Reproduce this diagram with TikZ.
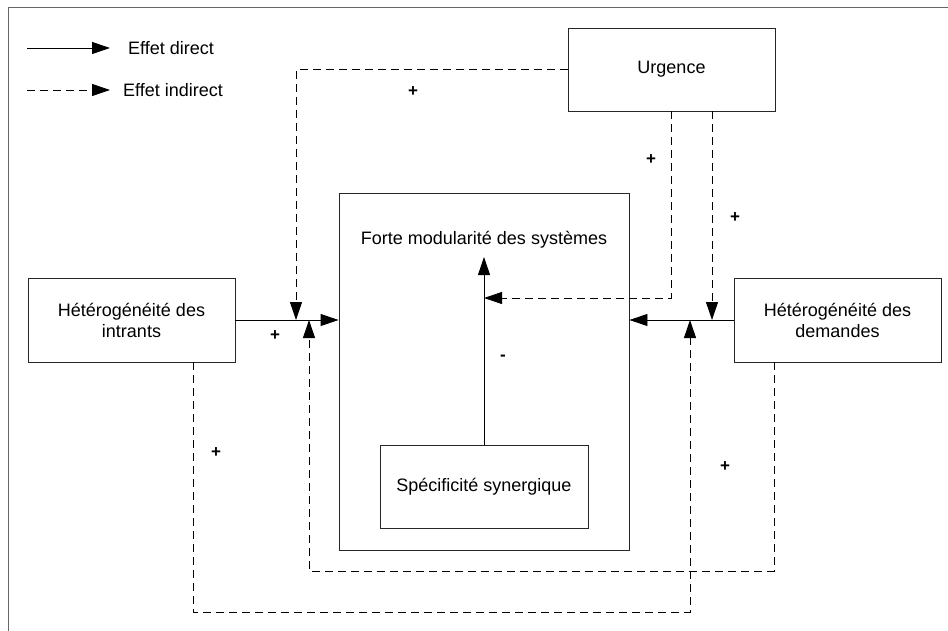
\documentclass[tikz,border=0pt]{standalone}
\usepackage{fontspec}
\setmainfont{Liberation Sans}
\usetikzlibrary{arrows.meta}
\begin{document}
\begin{tikzpicture}[x=1pt,y=-1pt,
  box/.style={draw=black!85,line width=0.9pt,rectangle,align=center,inner sep=0pt,font=\fontsize{18}{21}\selectfont},
  txt/.style={font=\fontsize{18}{21}\selectfont,inner sep=0pt},
  dir/.style={draw=black,line width=0.9pt,-{Triangle[length=18pt,width=12pt]}},
  ind/.style={draw=black,line width=0.9pt,dash pattern=on 8pt off 5pt,-{Triangle[length=18pt,width=12pt]}},
  sgn/.style={font=\fontsize{17}{18}\selectfont\bfseries,inner sep=0pt}]
\useasboundingbox (0,0) rectangle (948,631);
\draw[black!60,line width=1pt] (8,631) -- (8,7.5) -- (948,7.5);
% legend
\coordinate (la1) at (27,48); \coordinate (lb1) at (110,48);
\coordinate (la2) at (27,90); \coordinate (lb2) at (110,90);
\draw[dir] (la1) -- (lb1);
\draw[ind] (la2) -- (lb2);
\node[txt,anchor=west] (ld) at (128,48) {Effet direct};
\node[txt,anchor=west] (li) at (123,90) {Effet indirect};
% boxes
\node[box,minimum width=207pt,minimum height=83pt] (urg) at (671.5,69.5) {Urgence};
\node[box,minimum width=207pt,minimum height=84pt] (hin) at (131.5,320) {Hétérogénéité des\\intrants};
\node[box,minimum width=207pt,minimum height=84pt] (hde) at (837.5,320) {Hétérogénéité des\\demandes};
\node[box,minimum width=290pt,minimum height=357pt] (big) at (484,371.5) {};
\node[txt] (ft) at (484,240) {Forte modularité des systèmes};
\node[box,minimum width=208pt,minimum height=83pt] (spe) at (484,486.5) {Spécificité synergique};
% junction coordinates
\coordinate (j1) at (296,320);
\coordinate (j2) at (712,320);
\coordinate (j3) at (309,320);
\coordinate (j4) at (690,320);
\coordinate (t1) at (484,298);
\coordinate (ftb) at (484,257);
\coordinate (c3) at (309,571);
\coordinate (c4) at (193,612);
% direct effects
\draw[dir] (hin.east) -- (hin.east -| big.west);
\draw[dir] (hde.west) -- (hde.west -| big.east);
\draw[dir] (spe.north) -- (ftb);
% indirect effects
\draw[ind] (urg.west) -| (j1);
\draw[ind] ([xshift=-0.5pt]urg.south) |- (t1);
\draw[ind] ([xshift=40.5pt]urg.south) -- (j2);
\draw[ind] ([xshift=-63.5pt]hde.south) |- (c3) -- (j3);
\draw[ind] ([xshift=61.5pt]hin.south) |- (c4 -| j4) -- (j4);
% signs
\node[sgn] (s1) at (413,92) {+};
\node[sgn] (s2) at (275,336) {+};
\node[sgn] (s3) at (651,160) {+};
\node[sgn] (s4) at (735,218) {+};
\node[sgn] (s5) at (216,453) {+};
\node[sgn] (s6) at (725,467) {+};
\node[sgn] (s7) at (503,358) {-};
\end{tikzpicture}
\end{document}
